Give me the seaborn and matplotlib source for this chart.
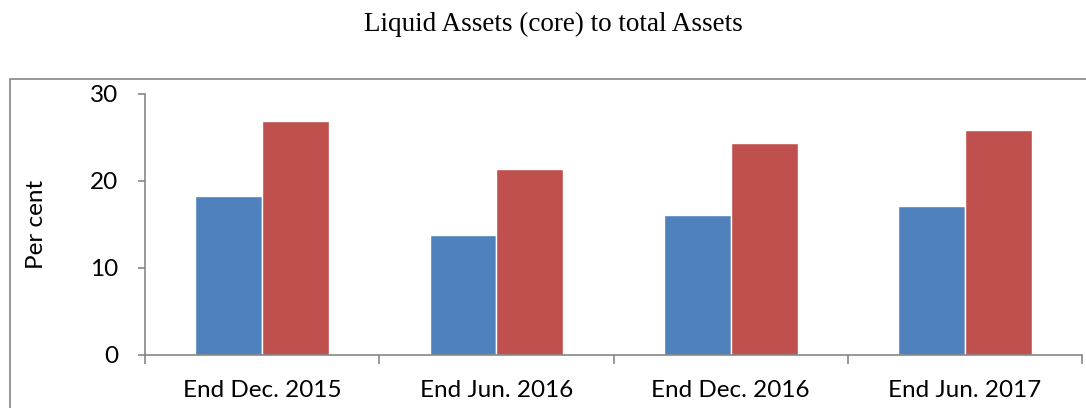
import pandas as pd
import seaborn as sns
import matplotlib.pyplot as plt
from matplotlib.patches import Rectangle
from matplotlib.ticker import FixedLocator

periods = ['End Dec. 2015', 'End Jun. 2016', 'End Dec. 2016', 'End Jun. 2017']
series_1 = [18.3, 13.8, 16.1, 17.1]
series_2 = [26.9, 21.4, 24.4, 25.8]

df = pd.DataFrame({
    'period': periods * 2,
    'value': series_1 + series_2,
    'series': ['Series 1'] * 4 + ['Series 2'] * 4,
})

sns.set_style('white')
plt.rcParams['font.family'] = ['Lato', 'DejaVu Sans']
plt.rcParams['text.color'] = 'black'
plt.rcParams['xtick.labelcolor'] = 'black'
plt.rcParams['ytick.labelcolor'] = 'black'
plt.rcParams['axes.labelcolor'] = 'black'

fig = plt.figure(figsize=(10.86, 4.08), dpi=100)
ax = fig.add_axes([0.1335, 0.130, 0.863, 0.640])

sns.barplot(data=df, x='period', y='value', hue='series', order=periods,
            palette=['#4F81BD', '#C0504D'], width=0.57, saturation=1,
            legend=False, ax=ax)

ax.set_xlim(-0.5, 3.5)
ax.set_ylim(0, 30)
ax.set_yticks([0, 10, 20, 30])
ax.set_xlabel('')
ax.set_ylabel('Per cent', fontsize=17.5, labelpad=31)

gray = '#868686'
for side in ['top', 'right']:
    ax.spines[side].set_visible(False)
for side in ['left', 'bottom']:
    ax.spines[side].set_color(gray)
    ax.spines[side].set_linewidth(1.2)

# category boundaries as ticks, like the Excel chart
ax.xaxis.set_minor_locator(FixedLocator([-0.5, 0.5, 1.5, 2.5, 3.5]))
ax.tick_params(axis='x', which='major', length=0, labelsize=17.5, pad=18)
ax.tick_params(axis='x', which='minor', length=6.5, color=gray, width=1.2, direction='out', bottom=True)
ax.tick_params(axis='y', length=5, color=gray, width=1.2, direction='out', labelsize=17.5, left=True, pad=14)

fig.text(0.51, 0.94, 'Liquid Assets (core) to total Assets', ha='center', va='center',
         fontsize=19.5, family=['Liberation Serif', 'DejaVu Serif'])

# chart border box that runs off the right and bottom edges
fig.patches.append(Rectangle((0.0092, -0.2), 1.2, 1.006, transform=fig.transFigure,
                             fill=False, edgecolor=gray, linewidth=1.2))

fig.savefig('out.png', dpi=100)
